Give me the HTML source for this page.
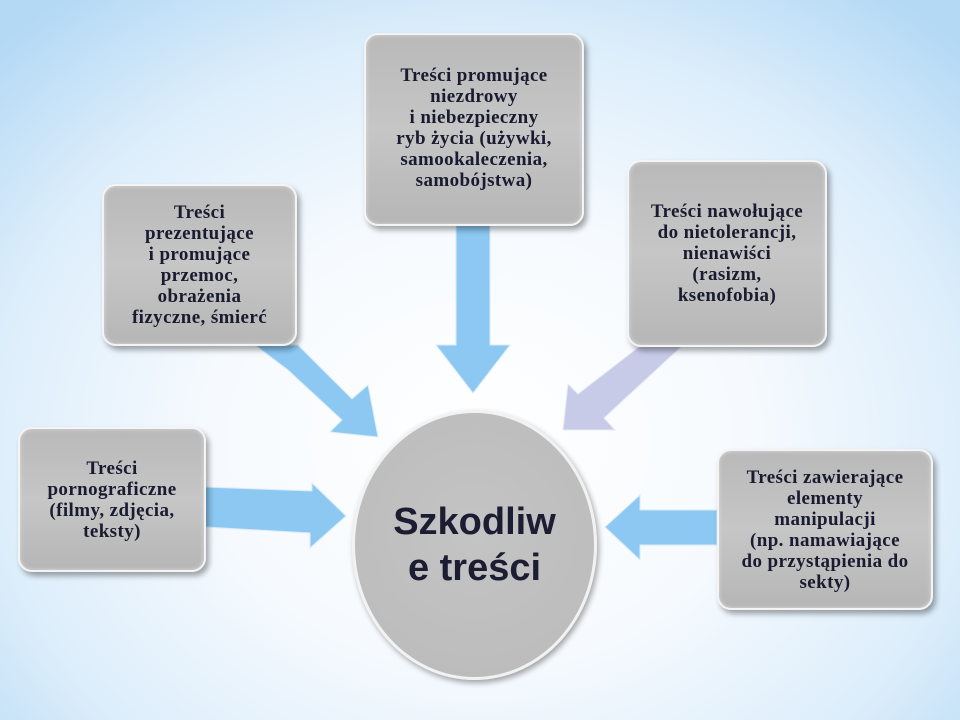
<!DOCTYPE html>
<html><head><meta charset="utf-8"><style>
html,body{margin:0;padding:0;}
body{width:960px;height:720px;overflow:hidden;position:relative;
background:radial-gradient(ellipse 680px 560px at 480px 440px,#ffffff 0%,#f6fafe 40%,#ddeefb 72%,#b3d9f5 100%);}
.box{position:absolute;border-radius:14px;background:linear-gradient(180deg,#b9b9b9,#c6c6c6 50%,#b6b6b6);
border:2px solid #f4f4f4;box-shadow:3px 4px 6px rgba(0,0,0,0.35),inset 0 0 4px rgba(255,255,255,.5);
display:flex;align-items:center;justify-content:center;text-align:center;
font-family:"Liberation Serif",serif;font-weight:bold;font-size:19px;line-height:21px;letter-spacing:0.4px;color:#1a1a30;box-sizing:border-box;}
svg{position:absolute;left:0;top:0;}
.circle{position:absolute;left:352px;top:410px;width:245px;height:270px;border-radius:50%;
background:radial-gradient(circle at 50% 45%,#c4c4c4,#bcbcbc 80%,#aaa);border:3px solid #f2f2f2;
box-shadow:2px 3px 6px rgba(0,0,0,.35);box-sizing:border-box;display:flex;align-items:center;justify-content:center;
font-family:"Liberation Sans",sans-serif;font-weight:bold;font-size:38px;line-height:46px;color:#1c1c33;text-align:center;}
</style></head><body>
<svg width="960" height="720">
<polygon points="205,487 312,491 312,483 346,516 310,548 310,533 205,527" fill="#8cc8f2" stroke="#d8ecfb" stroke-width="1"/>
<polygon points="255,345 298,345 352,399 368,385 378,437 330,432 342,420 288,370" fill="#8cc8f2" stroke="#d8ecfb" stroke-width="1"/>
<polygon points="456,225 490,225 490,345 510,345 473,393 436,345 456,345" fill="#8cc8f2" stroke="#d8ecfb" stroke-width="1"/>
<polygon points="640,346 682,346 604,418 615,430 563,430 568,384 578,394" fill="#c8cbe8" stroke="#e8eaf8" stroke-width="1"/>
<polygon points="717,510 640,510 640,495 605,527 640,560 640,545 717,545" fill="#8cc8f2" stroke="#d8ecfb" stroke-width="1"/>
</svg>
<div class="box" style="left:18px;top:427px;width:188px;height:145px;">Treści<br>pornograficzne<br>(filmy, zdjęcia,<br>teksty)</div>
<div class="box" style="left:102px;top:184px;width:195px;height:162px;">Treści<br>prezentujące<br>i promujące<br>przemoc,<br>obrażenia<br>fizyczne, śmierć</div>
<div class="box" style="left:364px;top:33px;width:220px;height:193px;align-items:flex-start;padding-top:30px;">Treści promujące<br>niezdrowy<br>i niebezpieczny<br>ryb życia (używki,<br>samookaleczenia,<br>samobójstwa)</div>
<div class="box" style="left:627px;top:160px;width:200px;height:187px;">Treści nawołujące<br>do nietolerancji,<br>nienawiści<br>(rasizm,<br>ksenofobia)</div>
<div class="box" style="left:717px;top:449px;width:216px;height:161px;">Treści zawierające<br>elementy<br>manipulacji<br>(np. namawiające<br>do przystąpienia do<br>sekty)</div>
<div class="circle">Szkodliw<br>e treści</div>
</body></html>
